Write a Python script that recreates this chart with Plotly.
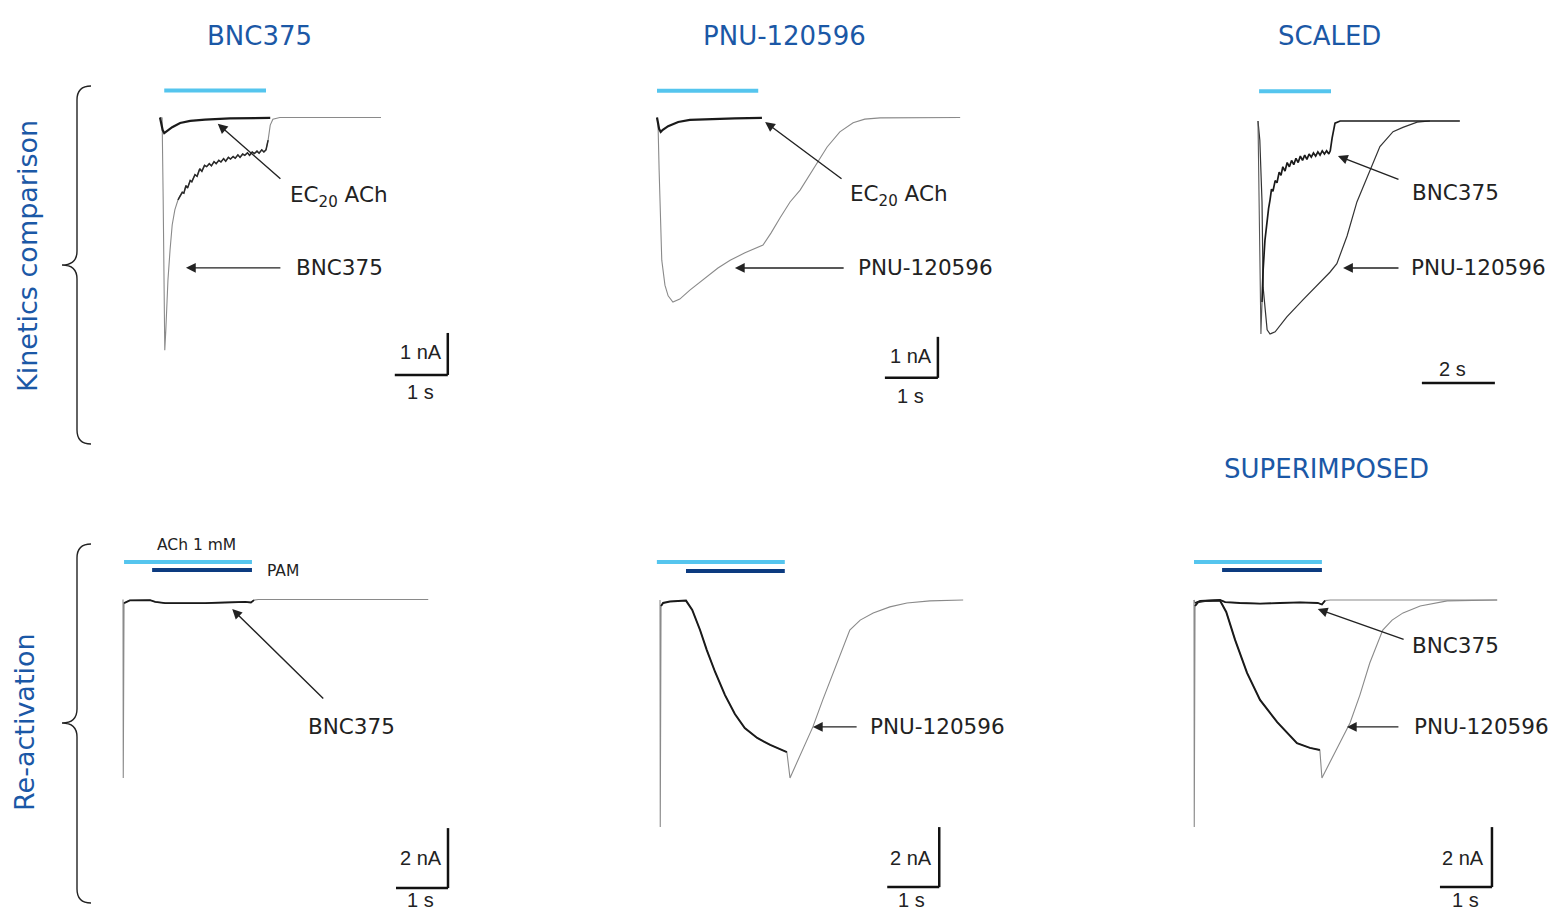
import plotly.graph_objects as go

W, H = 1553, 911

# ---------------- DATA (time in s, current in nA; SCALED panel normalised) ----------------
# Kinetics comparison - BNC375
k1_bnc_t = [0, 0.04, 0.06, 0.08, 0.09, 0.11, 0.15, 0.19, 0.23, 0.28, 0.34, 0.38, 0.42, 0.45, 0.49, 0.52,
            0.57, 0.60, 0.66, 0.70, 0.75, 0.79, 0.84, 0.88, 0.93, 0.97, 1.02, 1.06, 1.11, 1.15, 1.20, 1.24,
            1.29, 1.33, 1.38, 1.42, 1.47, 1.51, 1.56, 1.60, 1.65, 1.69, 1.74, 1.78, 1.83, 1.87, 1.92, 1.96,
            2.00, 2.04, 2.08, 2.13, 2.26, 4.17]
k1_bnc_i = [0, -0.01, -1.96, -4.35, -5.54, -5.06, -3.87, -3.15, -2.56, -2.20, -1.96, -1.86, -1.78, -1.80,
            -1.62, -1.68, -1.50, -1.53, -1.36, -1.40, -1.22, -1.28, -1.14, -1.17, -1.10, -1.15, -1.05, -1.10,
            -1.02, -1.06, -0.98, -1.04, -0.95, -0.99, -0.93, -0.97, -0.89, -0.95, -0.87, -0.90, -0.84, -0.90,
            -0.82, -0.86, -0.80, -0.85, -0.77, -0.82, -0.77, -0.54, -0.18, -0.04, 0, 0]
k1_ec20_t = [0, 0.02, 0.05, 0.08, 0.13, 0.23, 0.38, 0.57, 0.85, 1.32, 2.08]
k1_ec20_i = [0, -0.10, -0.30, -0.37, -0.32, -0.23, -0.13, -0.08, -0.05, -0.02, -0.01]

# Kinetics comparison - PNU-120596
k2_pnu_t = [0, 0.02, 0.04, 0.06, 0.09, 0.15, 0.21, 0.30, 0.43, 0.62, 0.87, 1.15, 1.38, 1.66, 2.00, 2.15,
            2.32, 2.51, 2.70, 2.94, 3.21, 3.45, 3.70, 3.92, 4.21, 5.72]
k2_pnu_i = [0, -0.18, -1.28, -2.50, -3.48, -4.09, -4.35, -4.50, -4.43, -4.21, -3.96, -3.67, -3.48, -3.30,
            -3.11, -2.82, -2.45, -2.06, -1.77, -1.28, -0.72, -0.35, -0.13, -0.04, -0.01, 0]
k2_ec20_t = [0, 0.01, 0.04, 0.07, 0.11, 0.21, 0.40, 0.62, 1.00, 1.47, 1.98]
k2_ec20_i = [0, -0.08, -0.28, -0.35, -0.30, -0.21, -0.11, -0.06, -0.04, -0.02, -0.01]

# SCALED (normalised to peak)
k3_bnc_t = [0, 0.03, 0.08, 0.11, 0.14, 0.19, 0.25, 0.29, 0.33, 0.37, 0.41, 0.47, 0.52, 0.58, 0.63, 0.68,
            0.74, 0.80, 0.86, 0.92, 0.98, 1.04, 1.10, 1.16, 1.22, 1.28, 1.34, 1.40, 1.46, 1.52, 1.58, 1.64,
            1.70, 1.76, 1.82, 1.88, 1.94, 1.98, 2.03, 2.11, 2.25, 5.53]
k3_bnc_i = [0, -0.37, -1.0, -0.85, -0.70, -0.56, -0.46, -0.41, -0.37, -0.32, -0.33, -0.28, -0.29, -0.24,
            -0.255, -0.215, -0.235, -0.195, -0.215, -0.185, -0.205, -0.175, -0.195, -0.165, -0.185, -0.16,
            -0.18, -0.155, -0.17, -0.15, -0.165, -0.145, -0.16, -0.14, -0.155, -0.14, -0.155, -0.14, -0.08,
            -0.01, 0, 0]
k3_pnu_t = [0, 0.05, 0.11, 0.14, 0.25, 0.33, 0.47, 0.79, 1.23, 1.70, 1.97, 2.16, 2.44, 2.71, 3.07, 3.34,
            3.70, 3.97, 4.36, 4.71]
k3_pnu_i = [0, -0.09, -0.38, -0.78, -0.98, -1.0, -0.99, -0.92, -0.84, -0.76, -0.71, -0.67, -0.54, -0.38,
            -0.23, -0.12, -0.05, -0.03, -0.005, 0]

# Re-activation - BNC375
r1_bnc_t = [0, 0.005, 0.02, 0.06, 0.13, 0.52, 0.62, 0.81, 1.19, 1.58, 1.96, 2.35, 2.46, 2.52, 2.60, 5.87]
r1_bnc_i = [0, -5.95, -0.12, -0.08, -0.03, -0.02, -0.08, -0.12, -0.13, -0.12, -0.10, -0.08, -0.10, -0.02, 0, 0]

# Re-activation - PNU-120596
r2_pnu_t = [0, 0.005, 0.02, 0.06, 0.19, 0.50, 0.62, 0.77, 0.90, 1.06, 1.25, 1.44, 1.63, 1.87, 2.12, 2.44,
            2.50, 2.69, 2.94, 3.13, 3.33, 3.52, 3.65, 3.85, 4.10, 4.42, 4.75, 5.19, 5.83]
r2_pnu_i = [0, -7.57, -0.20, -0.10, -0.05, -0.02, -0.33, -1.0, -1.67, -2.40, -3.17, -3.80, -4.27, -4.60,
            -4.83, -5.07, -5.93, -5.17, -4.23, -3.33, -2.43, -1.60, -1.0, -0.67, -0.43, -0.23, -0.10, -0.03, 0]

# SUPERIMPOSED
r3_pnu_t = [0, 0.005, 0.02, 0.08, 0.21, 0.50, 0.62, 0.79, 1.02, 1.27, 1.60, 1.98, 2.23, 2.42, 2.46, 2.65,
            3.00, 3.19, 3.38, 3.63, 3.81, 4.02, 4.35, 4.87, 5.83]
r3_pnu_i = [0, -7.57, -0.20, -0.07, -0.03, -0.02, -0.40, -1.33, -2.43, -3.33, -4.07, -4.77, -4.93, -5.0,
            -5.93, -5.27, -4.10, -3.17, -2.10, -1.0, -0.67, -0.43, -0.20, -0.03, 0]
r3_bnc_t = [0, 0.02, 0.12, 0.50, 0.60, 0.88, 1.27, 1.65, 2.04, 2.38, 2.46, 2.52, 2.62, 5.83]
r3_bnc_i = [0, -0.10, -0.03, 0, -0.07, -0.10, -0.12, -0.10, -0.08, -0.10, -0.15, -0.02, 0, 0]

# Drug application bars (start, end) in s
ach_bars = [(0.08, 2.0), (0.0, 1.91), (0.03, 2.0), (0.02, 2.48), (-0.06, 2.40), (0.0, 2.46)]
pam_bars = [None, None, None, (0.56, 2.48), (0.50, 2.40), (0.54, 2.46)]

col_titles = ["BNC375", "PNU-120596", "SCALED", "SUPERIMPOSED"]
row_titles = ["Kinetics comparison", "Re-activation"]

# ---------------- LAYOUT HELPERS ----------------
# panel box (pixels) + calibration (origin pixel, px per s, px per unit current)
panels = [
    (100, 480, 60, 420, 160, 117.5, 53, 42),
    (620, 1000, 60, 420, 657, 117.5, 53, 41),
    (1230, 1540, 60, 420, 1258, 121, 36.5, 213),
    (100, 480, 520, 911, 123, 599.5, 52, 30),
    (620, 1000, 520, 911, 660, 600, 52, 30),
    (1170, 1540, 520, 911, 1194, 600, 52, 30),
]

fig = go.Figure()
lay = {}
for k, (L, R, T, B, ox, oy, sx, sy) in enumerate(panels, start=1):
    s = '' if k == 1 else str(k)
    lay['xaxis' + s] = dict(domain=[L / W, R / W], range=[(L - ox) / sx, (R - ox) / sx], visible=False,
                            anchor='y' + s, fixedrange=True)
    lay['yaxis' + s] = dict(domain=[1 - B / H, 1 - T / H], range=[(oy - B) / sy, (oy - T) / sy],
                            visible=False, anchor='x' + s, fixedrange=True)
fig.update_layout(**lay)


def ax(k):
    return ('x' if k == 1 else 'x%d' % k), ('y' if k == 1 else 'y%d' % k)


def add_line(k, t, i, color, width):
    xa, ya = ax(k)
    fig.add_trace(go.Scatter(x=t, y=i, mode='lines', line=dict(color=color, width=width),
                             xaxis=xa, yaxis=ya, hoverinfo='skip', showlegend=False))


GREY = '#8a8a8a'
BLACK = '#1a1a1a'

# Panel 1
add_line(1, k1_bnc_t, k1_bnc_i, GREY, 1.1)
add_line(1, k1_bnc_t[10:50], k1_bnc_i[10:50], '#2a2a2a', 1.5)
add_line(1, k1_ec20_t, k1_ec20_i, BLACK, 2.2)
# Panel 2
add_line(2, k2_pnu_t, k2_pnu_i, GREY, 1.1)
add_line(2, k2_ec20_t, k2_ec20_i, BLACK, 2.2)
# Panel 3
add_line(3, k3_pnu_t, k3_pnu_i, '#333333', 1.2)
add_line(3, k3_bnc_t[:4], k3_bnc_i[:4], '#555555', 1.1)
add_line(3, k3_bnc_t[3:], k3_bnc_i[3:], BLACK, 1.7)
# Panel 4
add_line(4, r1_bnc_t, r1_bnc_i, GREY, 1.1)
add_line(4, r1_bnc_t[2:14], r1_bnc_i[2:14], BLACK, 1.8)
# Panel 5
add_line(5, r2_pnu_t, r2_pnu_i, GREY, 1.1)
add_line(5, r2_pnu_t[2:16], r2_pnu_i[2:16], BLACK, 2.0)
# Panel 6
add_line(6, r3_pnu_t, r3_pnu_i, GREY, 1.1)
add_line(6, r3_pnu_t[2:14], r3_pnu_i[2:14], BLACK, 2.0)
add_line(6, r3_bnc_t, r3_bnc_i, GREY, 1.1)
add_line(6, r3_bnc_t[1:12], r3_bnc_i[1:12], BLACK, 1.8)

LIGHT = '#55c5ee'
DARK = '#0c3b80'
ach_y = [0.64, 0.65, 0.14, 1.25, 1.27, 1.27]
pam_y = [None, None, None, 0.98, 0.97, 1.0]
shapes = []
for k in range(1, 7):
    xa, ya = ax(k)
    a0, a1 = ach_bars[k - 1]
    shapes.append(dict(type='line', xref=xa, yref=ya, x0=a0, x1=a1, y0=ach_y[k - 1], y1=ach_y[k - 1],
                       line=dict(color=LIGHT, width=4)))
    if pam_bars[k - 1]:
        p0, p1 = pam_bars[k - 1]
        shapes.append(dict(type='line', xref=xa, yref=ya, x0=p0, x1=p1, y0=pam_y[k - 1], y1=pam_y[k - 1],
                           line=dict(color=DARK, width=4)))

# scale bars: (panel, corner t, corner I, time len, current len)
scalebars = [(1, 5.43, -6.13, 1, 1), (2, 5.30, -6.35, 1, 1), (3, 6.49, -1.23, 2, 0),
             (4, 6.25, -9.62, 1, 2), (5, 5.37, -9.57, 1, 2), (6, 5.73, -9.57, 1, 2)]
for k, ct, ci, tl, il in scalebars:
    xa, ya = ax(k)
    shapes.append(dict(type='line', xref=xa, yref=ya, x0=ct - tl, x1=ct, y0=ci, y1=ci,
                       line=dict(color='#111', width=2.5)))
    if il:
        shapes.append(dict(type='line', xref=xa, yref=ya, x0=ct, x1=ct, y0=ci, y1=ci + il,
                           line=dict(color='#111', width=2.5)))


def brace(x_end, x_spine, x_tip, y_top, y_mid, y_bot, r=14):
    pts = lambda x, y: "%.5f %.5f" % (x / W, 1 - y / H)
    return ("M " + pts(x_end, y_top) + " Q " + pts(x_spine, y_top) + " " + pts(x_spine, y_top + r) +
            " L " + pts(x_spine, y_mid - r) + " Q " + pts(x_spine, y_mid) + " " + pts(x_tip, y_mid) +
            " Q " + pts(x_spine, y_mid) + " " + pts(x_spine, y_mid + r) +
            " L " + pts(x_spine, y_bot - r) + " Q " + pts(x_spine, y_bot) + " " + pts(x_end, y_bot))


shapes.append(dict(type='path', xref='paper', yref='paper', path=brace(91, 77, 62, 86, 265, 444),
                   line=dict(color='#222', width=1.4)))
shapes.append(dict(type='path', xref='paper', yref='paper', path=brace(91, 77, 62, 544, 723, 903),
                   line=dict(color='#222', width=1.4)))
fig.update_layout(shapes=shapes)

BLUE = '#1b58a6'
ann = []
FONT = 'DejaVu Sans, Verdana, sans-serif'
for txt, x, y in [(col_titles[0], 259, 36), (col_titles[1], 784, 36), (col_titles[2], 1329, 36),
                  (col_titles[3], 1326, 469)]:
    ann.append(dict(text=txt, xref='paper', yref='paper', x=x / W, y=1 - y / H, showarrow=False,
                    xanchor='center', yanchor='middle', font=dict(family=FONT, size=26, color=BLUE)))
for txt, x, y in [(row_titles[0], 27, 256), (row_titles[1], 24, 722)]:
    ann.append(dict(text=txt, xref='paper', yref='paper', x=x / W, y=1 - y / H, showarrow=False,
                    textangle=-90, xanchor='center', yanchor='middle',
                    font=dict(family=FONT, size=27, color=BLUE)))

# labels (panel, text, t, I)
labels = [(1, "EC<sub>20</sub> ACh", 3.38, -1.89), (1, "BNC375", 3.38, -3.58),
          (2, "EC<sub>20</sub> ACh", 4.57, -1.91), (2, "PNU-120596", 5.06, -3.67),
          (3, "BNC375", 5.40, -0.338), (3, "PNU-120596", 6.03, -0.69),
          (4, "BNC375", 4.40, -4.22),
          (5, "PNU-120596", 5.33, -4.20),
          (6, "BNC375", 5.02, -1.50), (6, "PNU-120596", 5.52, -4.23)]
for k, txt, t, i in labels:
    xa, ya = ax(k)
    ann.append(dict(text=txt, xref=xa, yref=ya, x=t, y=i, showarrow=False, xanchor='center',
                    yanchor='middle', font=dict(family=FONT, size=21.5, color='#222')))
# arrows (panel, tail t, tail I, head t, head I)
arrows = [(1, 2.30, -1.49, 1.09, -0.15), (1, 2.30, -3.58, 0.49, -3.58),
          (2, 3.51, -1.52, 2.04, -0.11), (2, 3.55, -3.67, 1.47, -3.67),
          (3, 3.89, -0.277, 2.19, -0.164), (3, 3.89, -0.69, 2.33, -0.69),
          (4, 3.88, -3.35, 2.10, -0.32),
          (5, 3.81, -4.23, 2.94, -4.23),
          (6, 4.06, -1.33, 2.38, -0.30), (6, 3.96, -4.23, 2.94, -4.23)]
for k, t0, i0, t1, i1 in arrows:
    xa, ya = ax(k)
    ann.append(dict(text='', xref=xa, yref=ya, x=t1, y=i1, axref=xa, ayref=ya, ax=t0, ay=i0,
                    showarrow=True, arrowhead=2, arrowsize=1.4, arrowwidth=1.4, arrowcolor='#222'))
# small texts
for k, txt, t, i in [(4, "ACh 1 mM", 1.42, 1.82), (4, "PAM", 3.08, 0.95)]:
    xa, ya = ax(k)
    ann.append(dict(text=txt, xref=xa, yref=ya, x=t, y=i, showarrow=False, xanchor='center',
                    yanchor='middle', font=dict(family=FONT, size=15.5, color='#222')))
NARROW = 'Liberation Sans Narrow, Arial Narrow, Liberation Sans, sans-serif'
for k, txt, t, i in [(1, "1 nA", 4.92, -5.58), (1, "1 s", 4.92, -6.54),
                     (2, "1 nA", 4.79, -5.82), (2, "1 s", 4.79, -6.79),
                     (3, "2 s", 5.34, -1.164),
                     (4, "2 nA", 5.73, -8.62), (4, "1 s", 5.73, -10.0),
                     (5, "2 nA", 4.83, -8.60), (5, "1 s", 4.83, -10.0),
                     (6, "2 nA", 5.17, -8.60), (6, "1 s", 5.23, -10.0)]:
    xa, ya = ax(k)
    ann.append(dict(text=txt, xref=xa, yref=ya, x=t, y=i, showarrow=False, xanchor='center',
                    yanchor='middle', font=dict(family=NARROW, size=20, color='#222')))
fig.update_layout(annotations=ann)

fig.update_layout(width=W, height=H, margin=dict(l=0, r=0, t=0, b=0, pad=0),
                  paper_bgcolor='white', plot_bgcolor='rgba(0,0,0,0)', showlegend=False)

fig.write_html("out.html", config={'displayModeBar': False},
               post_script="document.body.style.margin='0px';document.body.style.overflow='hidden';")
